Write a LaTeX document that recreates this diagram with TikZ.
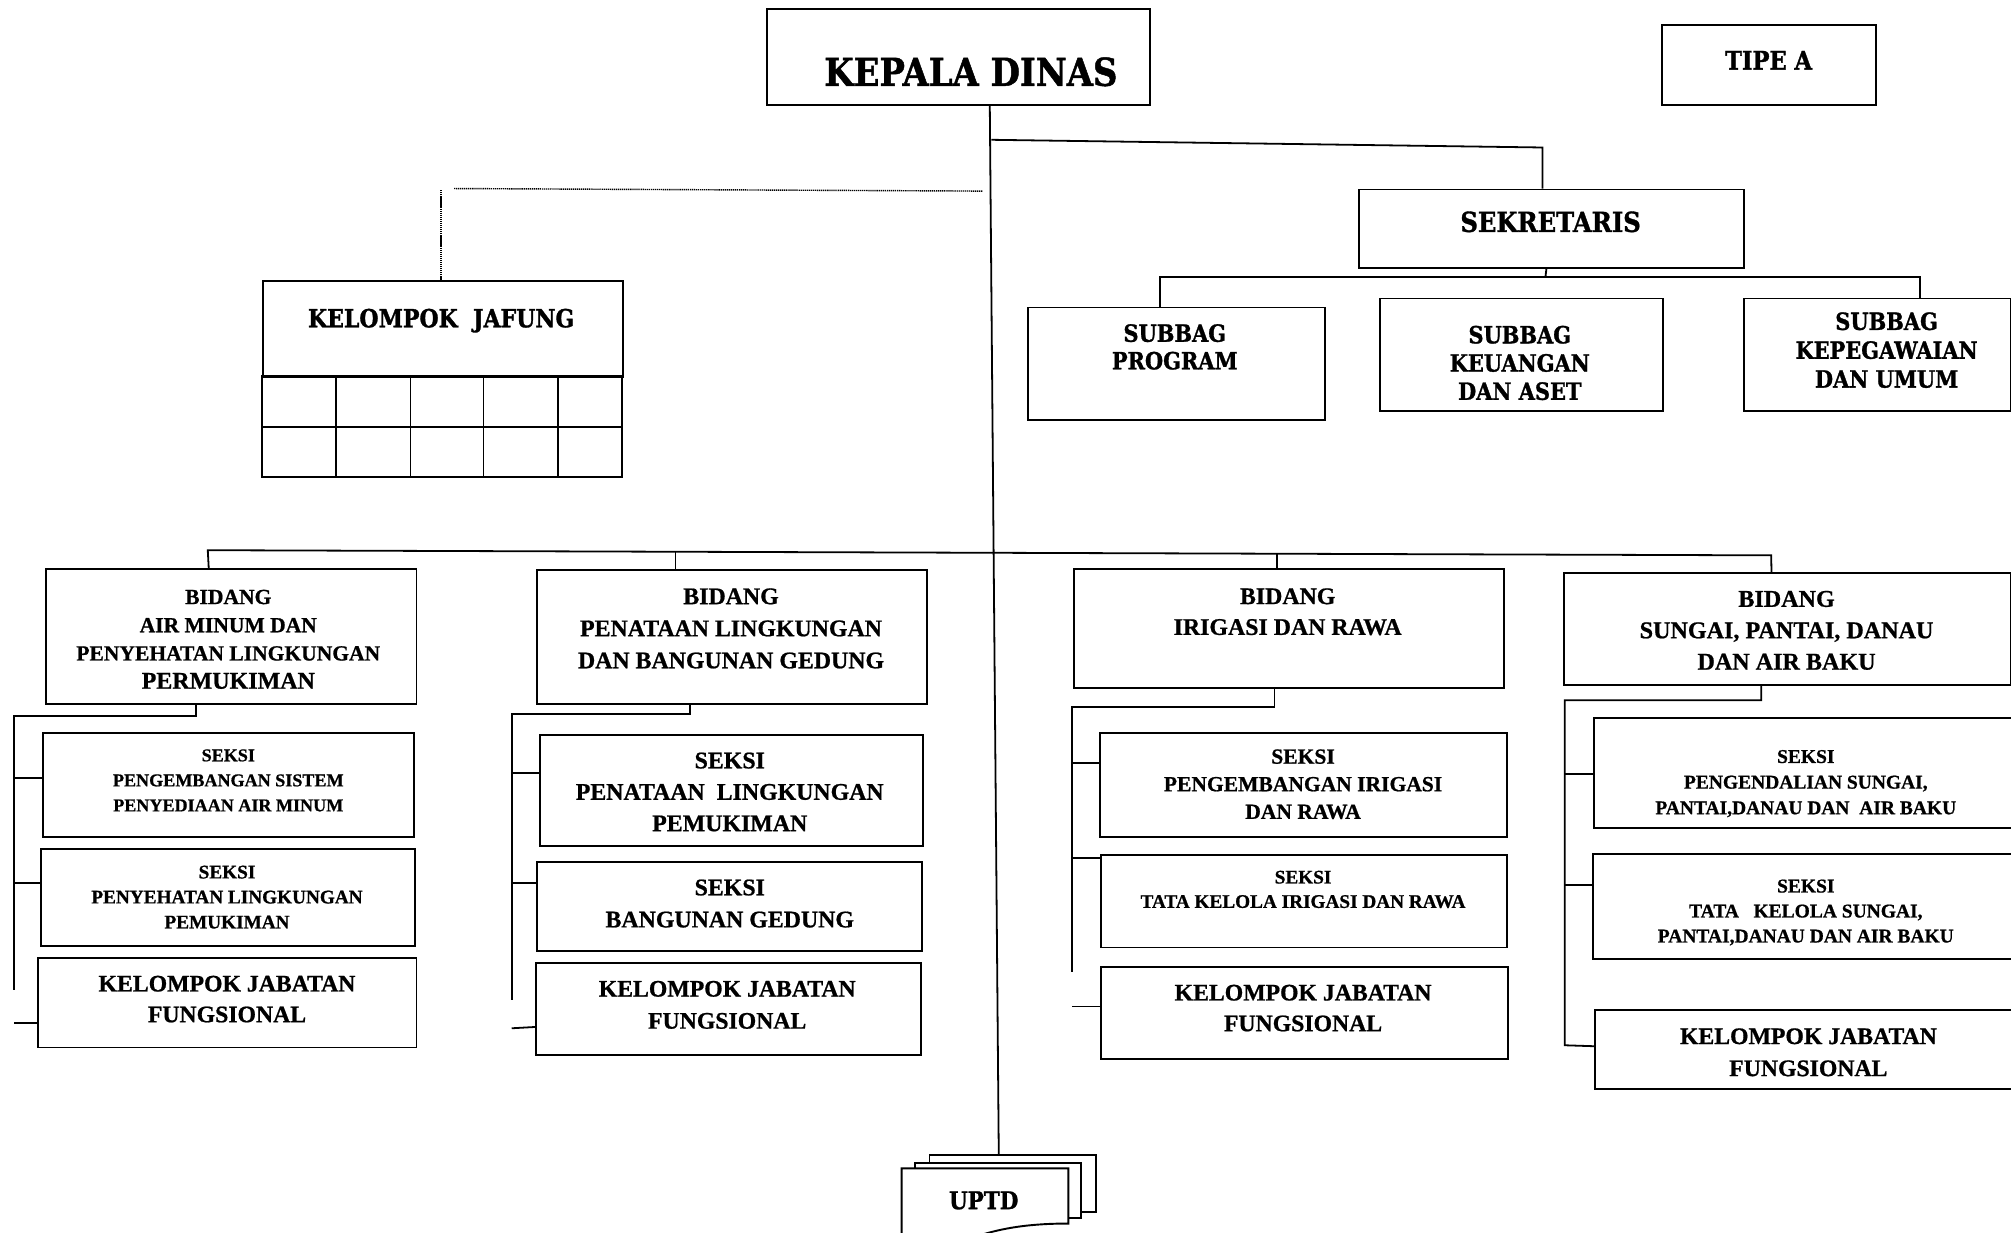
\documentclass[tikz,border=0pt]{standalone}
\usepackage{fontspec}
\setmainfont{Liberation Serif}[BoldFeatures={FakeBold=0.8}]
\newfontfamily\slab{DejaVu Serif}[FakeStretch=0.88, BoldFeatures={FakeBold=1.2}]
\usetikzlibrary{calc}
\newcommand\mybox[5]{\node[bx, minimum width={(#4-#2)*1pt}, minimum height={(#5-#3)*1pt}] (#1) at (#2,#3) {};}
\newcommand\fs[2]{\fontsize{#1}{#2}\selectfont}
\begin{document}
\begin{tikzpicture}[x=1pt,y=-1pt,
  bx/.style={draw, line width=1.5pt, fill=white, inner sep=0pt, anchor=north west},
  tx/.style={align=center, inner sep=0pt, font=\bfseries},
  st/.style={align=center, inner sep=0pt, font=\slab\bfseries},
  ln/.style={line width=1.4pt},
  dt/.style={line width=1.1pt, dash pattern=on 1pt off 0.6pt}]
\useasboundingbox (0,0) rectangle (1568,961);
\clip (0,0) rectangle (1568,961);
\fill[white] (0,0) rectangle (1568,961);

% top level
\mybox{kd}{597}{6}{896}{81}
\node[st, font=\slab\bfseries\fs{30}{36}] (t-kd) at (757,56) {KEPALA DINAS};
\mybox{tipe}{1295}{19}{1462}{81}
\node[st, font=\slab\bfseries\fs{20}{24}] (t-tipe) at (1379,47) {TIPE A};
\mybox{sek}{1059}{147}{1359}{208}
\node[st, font=\slab\bfseries\fs{21.5}{26}] (t-sek) at (1209,173) {SEKRETARIS};

% kelompok jafung
\mybox{kj}{204}{218}{485}{293}
\node[st, font=\slab\bfseries\fs{19.5}{24}] (t-kj) at (344,250) {KELOMPOK\ \ JAFUNG};
\draw[ln] (204,293) rectangle (485,372);
\draw[ln] (204,333) -- (485,333);
\foreach \xx in {262,320,377,435} \draw[ln] (\xx,293) -- (\xx,372);

% subbag
\mybox{sp}{801}{239}{1032}{327}
\node[st, font=\slab\bfseries\fs{18.5}{21.5}] (t-sp) at (916,270.5) {SUBBAG\\PROGRAM};
\mybox{sku}{1075}{232}{1296}{320}
\node[st, font=\slab\bfseries\fs{18.5}{22}] (t-sku) at (1185,283) {SUBBAG\\KEUANGAN\\DAN ASET};
\mybox{skp}{1359}{232}{1567}{320}
\node[st, font=\slab\bfseries\fs{18.5}{22.5}] (t-skp) at (1471,273) {SUBBAG\\KEPEGAWAIAN\\DAN UMUM};

% bidang
\mybox{b1}{35}{443}{324}{548}
\node[tx, font=\bfseries\fs{16.8}{22}] (t-b1) at (178,498.5) {BIDANG\\AIR MINUM DAN\\PENYEHATAN LINGKUNGAN\\{\fs{18.7}{22}PERMUKIMAN}};
\mybox{b2}{418}{444}{722}{548}
\node[tx, font=\bfseries\fs{18.6}{25}] (t-b2) at (570,490) {BIDANG\\PENATAAN LINGKUNGAN\\DAN BANGUNAN GEDUNG};
\mybox{b3}{837}{443}{1172}{536}
\node[tx, font=\bfseries\fs{18.6}{24}] (t-b3) at (1004,477) {BIDANG\\IRIGASI DAN RAWA};
\mybox{b4}{1219}{446}{1567}{533}
\node[tx, font=\bfseries\fs{18.8}{24.5}] (t-b4) at (1393,491.5) {BIDANG\\SUNGAI, PANTAI, DANAU\\DAN AIR BAKU};

% seksi group 1
\mybox{s1a}{33}{571}{322}{652}
\node[tx, font=\bfseries\fs{14.1}{19.5}] (t-s1a) at (178,608.5) {SEKSI\\PENGEMBANGAN SISTEM\\PENYEDIAAN AIR MINUM};
\mybox{s1b}{31}{661}{323}{737}
\node[tx, font=\bfseries\fs{15}{19.5}] (t-s1b) at (177,699.5) {SEKSI\\PENYEHATAN LINGKUNGAN\\PEMUKIMAN};
\mybox{k1}{29}{746}{324}{816}
\node[tx, font=\bfseries\fs{18.5}{24}] (t-k1) at (177,779) {KELOMPOK JABATAN\\FUNGSIONAL};

% seksi group 2
\mybox{s2a}{420}{572}{719}{659}
\node[tx, font=\bfseries\fs{18.6}{24.5}] (t-s2a) at (569,617.5) {SEKSI\\PENATAAN\ \ LINGKUNGAN\\PEMUKIMAN};
\mybox{s2b}{418}{671}{718}{741}
\node[tx, font=\bfseries\fs{18.6}{25}] (t-s2b) at (569,704.5) {SEKSI\\BANGUNAN GEDUNG};
\mybox{k2}{417}{750}{717}{822}
\node[tx, font=\bfseries\fs{18.5}{25}] (t-k2) at (567,783.5) {KELOMPOK JABATAN\\FUNGSIONAL};

% seksi group 3
\mybox{s3a}{857}{571}{1174}{652}
\node[tx, font=\bfseries\fs{16.8}{21.5}] (t-s3a) at (1016,611.5) {SEKSI\\PENGEMBANGAN IRIGASI\\DAN RAWA};
\mybox{s3b}{858}{666}{1174}{738}
\node[tx, font=\bfseries\fs{15}{19}] (t-s3b) at (1016,693.5) {SEKSI\\TATA KELOLA IRIGASI DAN RAWA};
\mybox{k3}{858}{753}{1175}{825}
\node[tx, font=\bfseries\fs{18.5}{24}] (t-k3) at (1016,786) {KELOMPOK JABATAN\\FUNGSIONAL};

% seksi group 4
\mybox{s4a}{1242}{559}{1575}{645}
\node[tx, font=\bfseries\fs{15.2}{20}] (t-s4a) at (1408,611) {SEKSI\\PENGENDALIAN SUNGAI,\\PANTAI,DANAU DAN\ \ AIR BAKU};
\mybox{s4b}{1241}{665}{1575}{747}
\node[tx, font=\bfseries\fs{15.2}{19.5}] (t-s4b) at (1408,711.5) {SEKSI\\TATA\ \ \ KELOLA SUNGAI,\\PANTAI,DANAU DAN AIR BAKU};
\mybox{k4}{1243}{787}{1575}{848}
\node[tx, font=\bfseries\fs{18.5}{25}] (t-k4) at (1410,820.5) {KELOMPOK JABATAN\\FUNGSIONAL};

% UPTD stack
\mybox{uptdC}{724}{900}{854}{944}
\mybox{uptdB}{713}{906}{842}{949}
\draw[line width=1.5pt, fill=white] (703,911) -- (833,911) -- (833,954)
  .. controls (805,954) and (785,957) .. (768,962) -- (703,975) -- cycle;
\node[st, font=\slab\bfseries\fs{19}{22}] (uptd) at (767,936) {UPTD};

% connectors: main trunk
\draw[ln] ([xshift=24.5pt]kd.south) -- ([xshift=-11pt]uptdC.north);
\coordinate (j1) at (773,109);
\draw[ln] (j1) -- ([xshift=-7pt,yshift=32pt]sek.north) -- ([xshift=-7pt]sek.north);

% dotted to kelompok jafung
\coordinate (dR) at (766,149);
\coordinate (dL) at (354,147);
\draw[dt] (dR) -- (dL);
\draw[dt] ([xshift=-1.5pt]kj.north) -- ++(0,-70);

% sekretaris bus
\coordinate (sbus) at (1205,216);
\draw[ln] ([xshift=-4pt]sek.south) -- (sbus);
\draw[ln] ([xshift=-12.5pt]sp.north) |- (sbus) -| ([xshift=33.5pt]skp.north);

% bidang bus
\coordinate (busL) at (162,429);
\coordinate (busR) at (1381,433);
\draw[ln] ([xshift=-17.5pt]b1.north) -- (busL) -- (busR) -- ([xshift=-12.5pt]b4.north);
\draw[ln] ([xshift=-44pt]b2.north) -- ++(0,-13.3);
\draw[ln] ([xshift=-9.5pt]b3.north) -- ++(0,-11.3);

% group 1
\coordinate (g1a) at (11,558); \coordinate (g1b) at (11,772);
\draw[ln] ([xshift=-27.5pt]b1.south) |- (g1a) -- (g1b);
\draw[ln] ([yshift=5.5pt]s1a.west) -- ++(-22,0);
\draw[ln] ([yshift=11pt]s1b.west) -- ++(-20,0);
\draw[ln] ([yshift=-16pt]k1.west) -- ++(-18,0);

% group 2
\coordinate (g2a) at (399,557); \coordinate (g2b) at (399,780);
\draw[ln] ([xshift=-33pt]b2.south) |- (g2a) -- (g2b);
\draw[ln] ([yshift=13.5pt]s2a.west) -- ++(-21,0);
\draw[ln] ([yshift=18pt]s2b.west) -- ++(-19,0);
\draw[ln] ([yshift=-14pt]k2.west) -- ++(-18,1);

% group 3
\coordinate (g3a) at (836,551); \coordinate (g3b) at (836,758);
\draw[ln] ([xshift=-11.5pt]b3.south) |- (g3a) -- (g3b);
\draw[ln] ([yshift=17.5pt]s3a.west) -- ++(-21,0);
\draw[ln] ([yshift=34pt]s3b.west) -- ++(-22,0);
\draw[ln] ([yshift=5pt]k3.west) -- ++(-22,0);

% group 4
\coordinate (g4a) at (1220,546); \coordinate (g4b) at (1220,815);
\draw[ln] ([xshift=-20.5pt]b4.south) |- (g4a) -- (g4b) -- ([yshift=2.5pt]k4.west);
\draw[ln] ([yshift=-1pt]s4a.west) -- ++(-22,0);
\draw[ln] ([yshift=17pt]s4b.west) -- ++(-21,0);
\end{tikzpicture}
\end{document}
